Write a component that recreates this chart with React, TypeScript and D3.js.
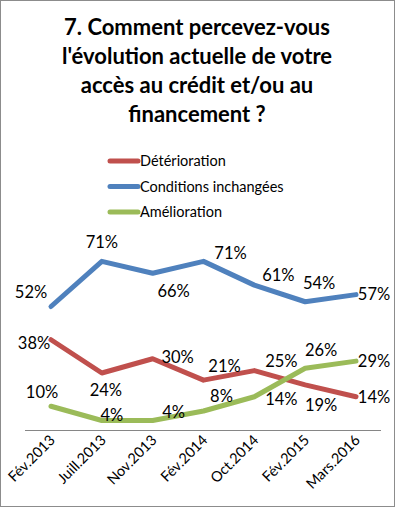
import { scaleLinear, scalePoint, line as d3_line } from "d3";

const periods = ["Fév.2013", "Juill.2013", "Nov.2013", "Fév.2014", "Oct.2014", "Fév.2015", "Mars.2016"];
const deterioration = [38, 24, 30, 21, 25, 19, 14];
const inchangees = [52, 71, 66, 71, 61, 54, 57];
const amelioration = [10, 4, 4, 8, 14, 26, 29];

const titleLines = [
  "7. Comment percevez-vous",
  "l'évolution actuelle de votre",
  "accès au crédit et/ou au",
  "financement ?",
];

// label offsets relative to each point (Excel had them placed by hand)
const labelOffsets: Record<string, [number, number][]> = {
  red: [[-17, 3], [4, 17], [25, -2], [21, -14], [27, -9], [16, 20], [18, 0]],
  blue: [[-20, -14], [0, -19], [21, 18], [27, -8], [24, -10], [14, -19], [18, 0]],
  green: [[-9, -14], [10, -5], [21, -8], [18, -15], [27, 2], [16, -18], [18, 0]],
};

const series = [
  { key: "red", name: "Détérioration", color: "#C0504D", values: deterioration },
  { key: "blue", name: "Conditions inchangées", color: "#4F81BD", values: inchangees },
  { key: "green", name: "Amélioration", color: "#9BBB59", values: amelioration },
];

const W = 395;
const H = 507;
const font = "Lato, 'Open Sans', sans-serif";

export default function App() {
  const x = scalePoint<string>().domain(periods).range([51, 356]);
  const y = scaleLinear().domain([0, 80]).range([430, 240]);
  const line = d3_line<number>()
    .x((_, i) => x(periods[i]) ?? 0)
    .y((d) => y(d));

  return (
    <div style={{ position: "absolute", left: 0, top: 0 }}>
      <svg width={W} height={H} style={{ display: "block", fontFamily: font }}>
        <rect x={0.5} y={0.5} width={W - 1} height={H - 1} fill="#fff" stroke="#8c8c8c" />
        {titleLines.map((t, i) => (
          <text
            key={i}
            x={197}
            y={35 + i * 29}
            textAnchor="middle"
            fontSize={22}
            fontWeight="bold"
            fill="#000"
          >
            {t}
          </text>
        ))}

        {/* legend */}
        {series.map((s, i) => (
          <g key={s.key} transform={`translate(108,${161 + i * 25.5})`}>
            <line x1={2} x2={30} y1={0} y2={0} stroke={s.color} strokeWidth={5} strokeLinecap="round" />
            <text x={32} y={5} fontSize={14.5} fill="#000">
              {s.name}
            </text>
          </g>
        ))}

        {/* x axis */}
        <line x1={25} x2={381} y1={430.5} y2={430.5} stroke="#868686" strokeWidth={1} />
        {periods.map((p) => (
          <text
            key={p}
            transform={`translate(${(x(p) ?? 0) + 5},${441}) rotate(-45)`}
            textAnchor="end"
            fontSize={14.5}
            fill="#000"
          >
            {p}
          </text>
        ))}

        {/* series */}
        {series.map((s) => (
          <path
            key={s.key}
            d={line(s.values) ?? ""}
            fill="none"
            stroke={s.color}
            strokeWidth={5}
            strokeLinejoin="round"
            strokeLinecap="round"
          />
        ))}

        {/* data labels */}
        {series.map((s) =>
          s.values.map((v, i) => {
            const [dx, dy] = labelOffsets[s.key][i];
            return (
              <text
                key={s.key + i}
                x={(x(periods[i]) ?? 0) + dx}
                y={y(v) + dy}
                dy="0.35em"
                textAnchor="middle"
                fontSize={16.5}
                fill="#000"
              >
                {v}%
              </text>
            );
          })
        )}
      </svg>
    </div>
  );
}
